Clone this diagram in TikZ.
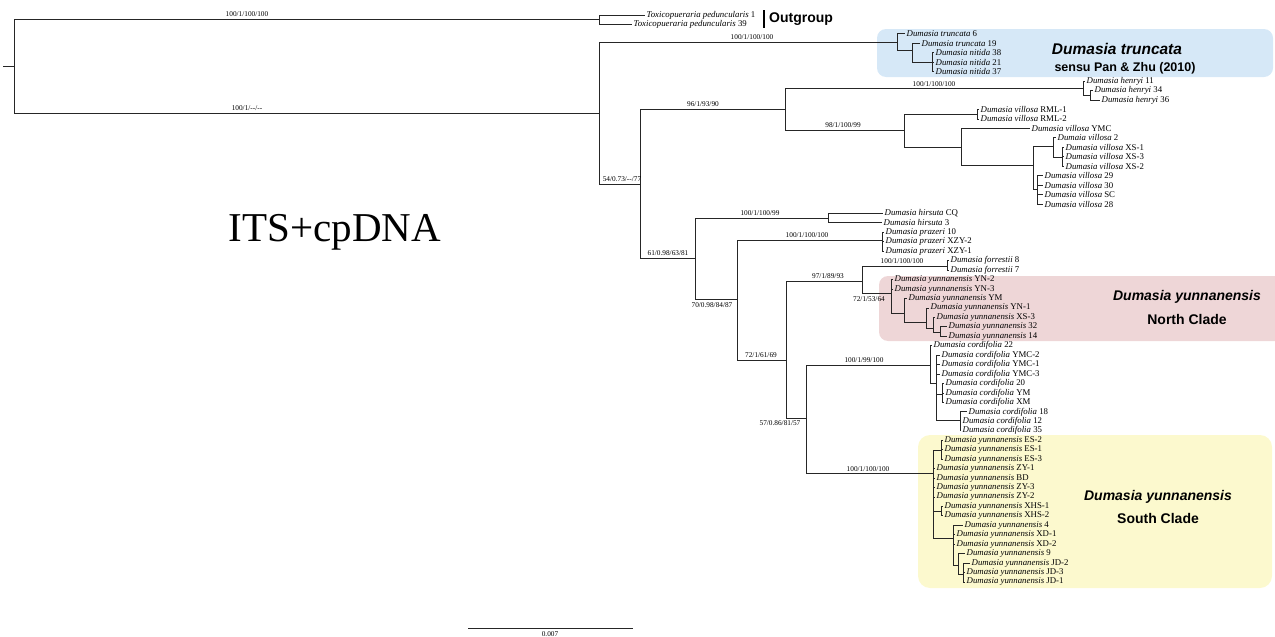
\documentclass[tikz,border=0pt]{standalone}
\usepackage{fontspec}
\setmainfont{Liberation Serif}
\newfontfamily\cladefont{Liberation Sans}
\usetikzlibrary{positioning}

\definecolor{truncfill}{RGB}{214,232,247}
\definecolor{northfill}{RGB}{238,214,215}
\definecolor{southfill}{RGB}{252,249,206}

\tikzset{
  br/.style={draw=black!85, line width=0.85pt},
  tip/.style={anchor=west, inner xsep=1.5pt, inner ysep=0pt, font=\fontsize{8.8}{9}\selectfont},
  blab/.style={inner sep=0pt, font=\fontsize{7.3}{8}\selectfont},
  clade/.style={inner sep=0pt, font=\cladefont\bfseries\fontsize{14}{16}\selectfont},
}

\begin{document}
\begin{tikzpicture}[x=1pt, y=-1pt]
  \useasboundingbox (0,0) rectangle (1275,637);

  % Boxes
  \fill[truncfill, rounded corners=9pt] (877,29) rectangle (1273,77);
  \fill[northfill, rounded corners=9pt] (879,276) rectangle (1290,341);
  \fill[southfill, rounded corners=12pt] (918,435) rectangle (1272,588);

  % Inner nodes
  \coordinate (root0) at (3,66);
  \coordinate (R) at (14,66);
  \coordinate (O) at (599,19);
  \coordinate (I) at (599,113);
  \coordinate (TR) at (897,42);
  \coordinate (TR1) at (912,50);
  \coordinate (NIT) at (932,62);
  \coordinate (A) at (640,184);
  \coordinate (B) at (785,109);
  \coordinate (HEN) at (1083,88);
  \coordinate (HEN1) at (1090,95);
  \coordinate (VIL) at (904,130);
  \coordinate (RML) at (977,114);
  \coordinate (VIL2) at (961,147);
  \coordinate (VIL3) at (1033,165);
  \coordinate (VIL4) at (1053,146);
  \coordinate (VIL5) at (1062,157);
  \coordinate (VIL6) at (1037,189);
  \coordinate (C) at (695,258);
  \coordinate (HIR) at (828,218);
  \coordinate (D) at (737,299);
  \coordinate (PRZ) at (882,240);
  \coordinate (E) at (786,360);
  \coordinate (F) at (862,281);
  \coordinate (FOR) at (947,266);
  \coordinate (N) at (891,293);
  \coordinate (N1) at (904,313);
  \coordinate (N2) at (926,322);
  \coordinate (N3) at (933,328);
  \coordinate (N4) at (940,332);
  \coordinate (G) at (806,418);
  \coordinate (CORD) at (930,365);
  \coordinate (C1) at (936,383);
  \coordinate (C2) at (942,394);
  \coordinate (C3) at (960,420);
  \coordinate (SOUTH) at (933,473);
  \coordinate (S1) at (941,450);
  \coordinate (S2) at (941,511);
  \coordinate (S3) at (953,538);
  \coordinate (S4) at (958,565);
  \coordinate (S5) at (963,574);

  % Branches
  \draw[br] (root0) -- (R);
  \foreach \p/\c in {R/O, R/I, I/TR, I/A, TR/TR1, TR1/NIT, A/B, A/C,
    B/HEN, B/VIL, HEN/HEN1, VIL/RML, VIL/VIL2, VIL2/VIL3, VIL3/VIL4,
    VIL4/VIL5, VIL3/VIL6, C/HIR, C/D, D/PRZ, D/E, E/F, E/G, F/FOR, F/N,
    N/N1, N1/N2, N2/N3, N3/N4, G/CORD, G/SOUTH, CORD/C1, C1/C2, C1/C3,
    SOUTH/S1, SOUTH/S2, SOUTH/S3, S3/S4, S4/S5}
  \draw[br] (\p) |- (\c);

  % Tips
  \foreach \n/\p/\x/\r/\t in {
    tT1/O/645/0/{\textit{Toxicopueraria peduncularis} 1},
    tT39/O/632/1/{\textit{Toxicopueraria peduncularis} 39},
    ttr6/TR/905/2/{\textit{Dumasia truncata} 6},
    ttr19/TR1/920/3/{\textit{Dumasia truncata} 19},
    tn38/NIT/934/4/{\textit{Dumasia nitida} 38},
    tn21/NIT/934/5/{\textit{Dumasia nitida} 21},
    tn37/NIT/934/6/{\textit{Dumasia nitida} 37},
    the11/HEN/1085/7/{\textit{Dumasia henryi} 11},
    the34/HEN1/1093/8/{\textit{Dumasia henryi} 34},
    the36/HEN1/1100/9/{\textit{Dumasia henryi} 36},
    tvR1/RML/979/10/{\textit{Dumasia villosa} RML-1},
    tvR2/RML/979/11/{\textit{Dumasia villosa} RML-2},
    tvYMC/VIL2/1030/12/{\textit{Dumasia villosa} YMC},
    tv2/VIL4/1056/13/{\textit{Dumaia villosa} 2},
    tvXS1/VIL5/1064/14/{\textit{Dumasia villosa} XS-1},
    tvXS3/VIL5/1064/15/{\textit{Dumasia villosa} XS-3},
    tvXS2/VIL5/1064/16/{\textit{Dumasia villosa} XS-2},
    tv29/VIL6/1043/17/{\textit{Dumasia villosa} 29},
    tv30/VIL6/1043/18/{\textit{Dumasia villosa} 30},
    tvSC/VIL6/1043/19/{\textit{Dumasia villosa} SC},
    tv28/VIL6/1043/20/{\textit{Dumasia villosa} 28},
    thiCQ/HIR/883/21/{\textit{Dumasia hirsuta} CQ},
    thi3/HIR/882/22/{\textit{Dumasia hirsuta} 3},
    tp10/PRZ/884/23/{\textit{Dumasia prazeri} 10},
    tpX2/PRZ/884/24/{\textit{Dumasia prazeri} XZY-2},
    tpX1/PRZ/884/25/{\textit{Dumasia prazeri} XZY-1},
    tf8/FOR/949/26/{\textit{Dumasia forrestii} 8},
    tf7/FOR/949/27/{\textit{Dumasia forrestii} 7},
    tyYN2/N/893/28/{\textit{Dumasia yunnanensis} YN-2},
    tyYN3/N/893/29/{\textit{Dumasia yunnanensis} YN-3},
    tyYM/N1/907/30/{\textit{Dumasia yunnanensis} YM},
    tyYN1/N2/929/31/{\textit{Dumasia yunnanensis} YN-1},
    tyXS3/N3/935/32/{\textit{Dumasia yunnanensis} XS-3},
    ty32/N4/947/33/{\textit{Dumasia yunnanensis} 32},
    ty14/N4/947/34/{\textit{Dumasia yunnanensis} 14},
    tc22/CORD/932/35/{\textit{Dumasia cordifolia} 22},
    tcY2/C1/940/36/{\textit{Dumasia cordifolia} YMC-2},
    tcY1/C1/940/37/{\textit{Dumasia cordifolia} YMC-1},
    tcY3/C1/940/38/{\textit{Dumasia cordifolia} YMC-3},
    tc20/C2/944/39/{\textit{Dumasia cordifolia} 20},
    tcYM/C2/944/40/{\textit{Dumasia cordifolia} YM},
    tcXM/C2/944/41/{\textit{Dumasia cordifolia} XM},
    tc18/C3/967/42/{\textit{Dumasia cordifolia} 18},
    tc12/C3/961/43/{\textit{Dumasia cordifolia} 12},
    tc35/C3/961/44/{\textit{Dumasia cordifolia} 35},
    tsES2/S1/943/45/{\textit{Dumasia yunnanensis} ES-2},
    tsES1/S1/943/46/{\textit{Dumasia yunnanensis} ES-1},
    tsES3/S1/943/47/{\textit{Dumasia yunnanensis} ES-3},
    tsZY1/SOUTH/935/48/{\textit{Dumasia yunnanensis} ZY-1},
    tsBD/SOUTH/935/49/{\textit{Dumasia yunnanensis} BD},
    tsZY3/SOUTH/935/50/{\textit{Dumasia yunnanensis} ZY-3},
    tsZY2/SOUTH/935/51/{\textit{Dumasia yunnanensis} ZY-2},
    tsX1/S2/943/52/{\textit{Dumasia yunnanensis} XHS-1},
    tsX2/S2/943/53/{\textit{Dumasia yunnanensis} XHS-2},
    ts4/S3/963/54/{\textit{Dumasia yunnanensis} 4},
    tsXD1/S3/955/55/{\textit{Dumasia yunnanensis} XD-1},
    tsXD2/S3/955/56/{\textit{Dumasia yunnanensis} XD-2},
    ts9/S4/965/57/{\textit{Dumasia yunnanensis} 9},
    tsJD2/S5/970/58/{\textit{Dumasia yunnanensis} JD-2},
    tsJD3/S5/965/59/{\textit{Dumasia yunnanensis} JD-3},
    tsJD1/S5/965/60/{\textit{Dumasia yunnanensis} JD-1}}
  {
    \node[tip] (\n) at (\x,{15+9.45*\r}) {\t};
    \draw[br] (\p) |- (\n.west);
  }

  % Support values
  \node[blab] (lO) at (247,14) {100/1/100/100};
  \node[blab] (lI) at (247,108) {100/1/-{}-/-{}-};
  \node[blab] (lTR) at (752,37) {100/1/100/100};
  \node[blab] (lA) at (622,179) {54/0.73/-{}-/77};
  \node[blab] (lB) at (703,104) {96/1/93/90};
  \node[blab] (lHEN) at (934,84) {100/1/100/100};
  \node[blab] (lVIL) at (843,125) {98/1/100/99};
  \node[blab] (lC) at (668,253) {61/0.98/63/81};
  \node[blab] (lHIR) at (760,213) {100/1/100/99};
  \node[blab] (lPRZ) at (807,235) {100/1/100/100};
  \node[blab] (lD) at (712,305) {70/0.98/84/87};
  \node[blab] (lE) at (761,355) {72/1/61/69};
  \node[blab] (lF) at (828,276) {97/1/89/93};
  \node[blab] (lFOR) at (902,261) {100/1/100/100};
  \node[blab] (lN) at (869,299) {72/1/53/64};
  \node[blab] (lG) at (780,423) {57/0.86/81/57};
  \node[blab] (lCORD) at (864,360) {100/1/99/100};
  \node[blab] (lSOUTH) at (868,469) {100/1/100/100};

  % Clade names
  \coordinate (ogtop) at (764,10);
  \coordinate (ogbot) at (764,28);
  \draw[line width=1.6pt] (ogtop) -- (ogbot);
  \node[clade, anchor=west, font=\cladefont\bfseries\fontsize{14}{15}\selectfont] (og) at (769,19) {Outgroup};
  \node[clade, font=\cladefont\bfseries\fontsize{15.5}{17}\selectfont] (trname) at (1117,49) {\itshape Dumasia truncata};
  \node[clade, font=\cladefont\bfseries\fontsize{12.5}{14}\selectfont] (trsensu) at (1125,68) {sensu Pan \& Zhu (2010)};
  \node[clade] (nname) at (1187,297) {\itshape Dumasia yunnanensis};
  \node[clade] (nclade) at (1187,319) {North Clade};
  \node[clade] (sname) at (1158,497) {\itshape Dumasia yunnanensis};
  \node[clade] (sclade) at (1158,518) {South Clade};

  % Title and scale
  \node[inner sep=0pt, font=\fontsize{41}{45}\selectfont] (title) at (335,232) {ITS+cpDNA};
  \coordinate (sb1) at (468,628);
  \coordinate (sb2) at (633,628);
  \draw[br] (sb1) -- (sb2);
  \node[blab] (sblab) at (550,634) {0.007};
\end{tikzpicture}
\end{document}
